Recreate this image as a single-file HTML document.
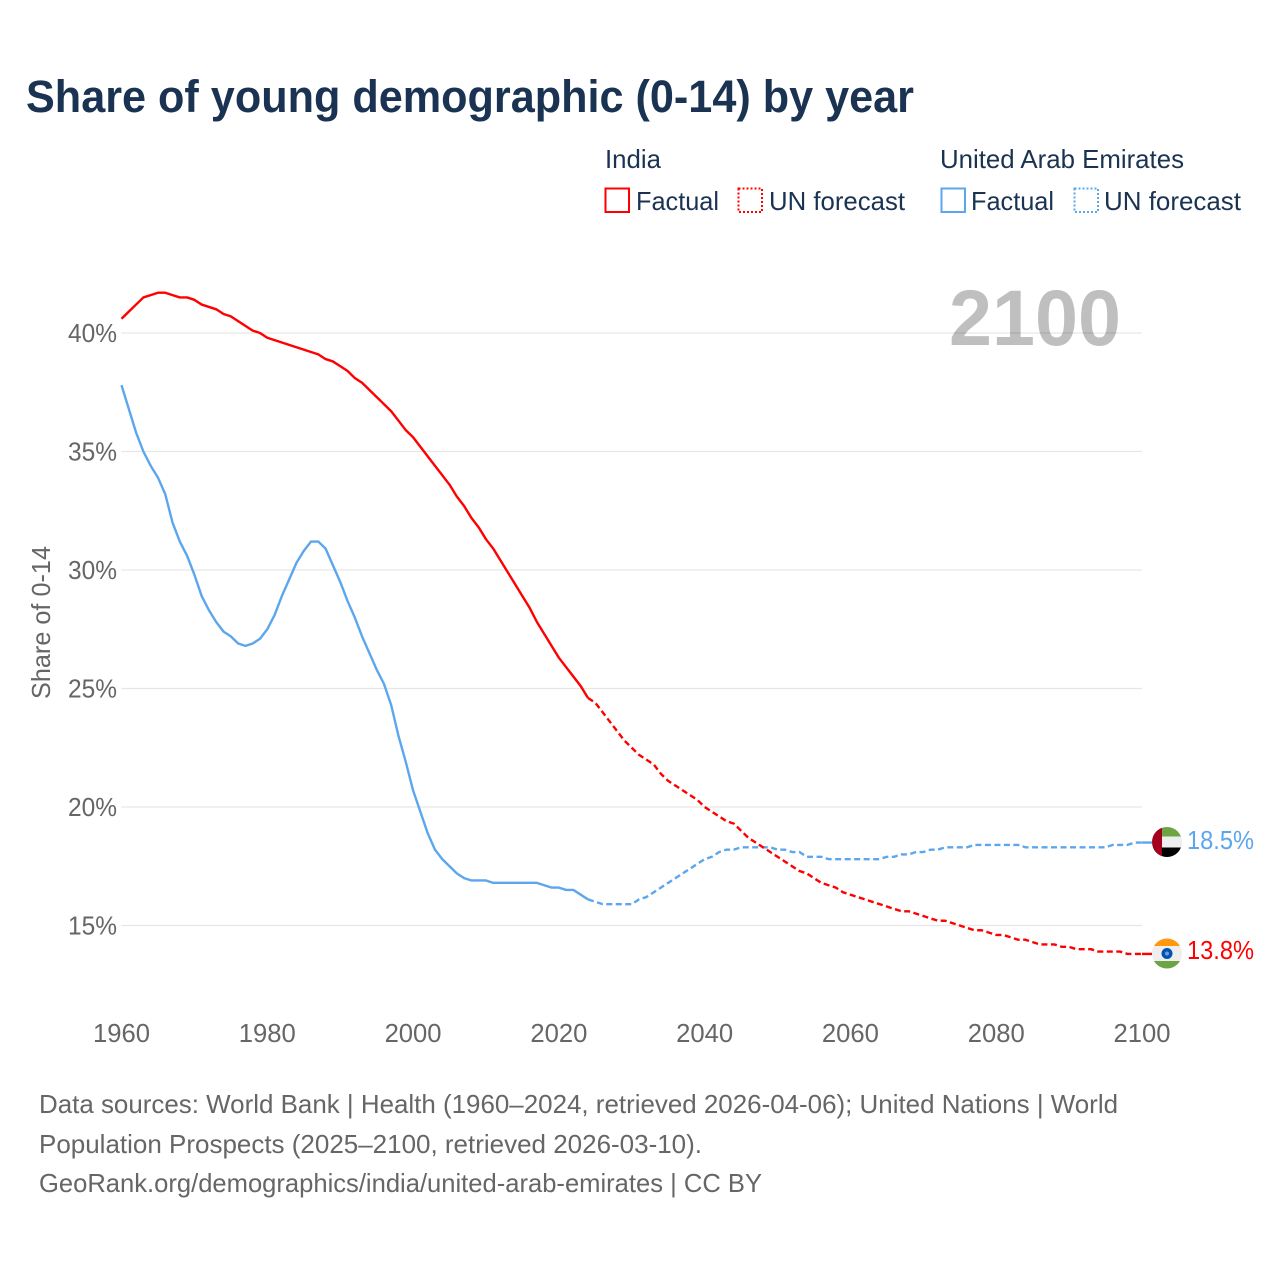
<!DOCTYPE html>
<html lang="en">
<head>
<meta charset="utf-8">
<title>Share of young demographic (0-14) by year</title>
<style>
html,body{margin:0;padding:0;background:#fff;}
svg{display:block;font-family:"Liberation Sans",sans-serif;}
text{font-family:"Liberation Sans",sans-serif;}
</style>
</head>
<body>
<svg id="chart" width="1280" height="1280" viewBox="0 0 1280 1280" xmlns="http://www.w3.org/2000/svg">
  <defs>
    <clipPath id="flag-clip-uae"><circle cx="1167" cy="842" r="15"/></clipPath>
    <clipPath id="flag-clip-india"><circle cx="1167" cy="953.5" r="15"/></clipPath>
  </defs>
  <rect width="1280" height="1280" fill="#fff"/>
  <text x="26" y="112" font-size="45" font-weight="700" fill="#1a3352" textLength="888" lengthAdjust="spacingAndGlyphs">Share of young demographic (0-14) by year</text>

  <g font-size="26" fill="#1a3352">
    <text x="605" y="168" textLength="56" lengthAdjust="spacingAndGlyphs">India</text>
    <text x="940" y="168" textLength="244" lengthAdjust="spacingAndGlyphs">United Arab Emirates</text>
    <rect x="605.5" y="188.5" width="23.5" height="23.5" fill="none" stroke="#ff0000" stroke-width="2"/>
    <text x="636" y="210" textLength="83" lengthAdjust="spacingAndGlyphs">Factual</text>
    <rect x="738.5" y="188.5" width="23.5" height="23.5" fill="none" stroke="#ff0000" stroke-width="2" stroke-dasharray="2 2"/>
    <text x="769" y="210" textLength="136" lengthAdjust="spacingAndGlyphs">UN forecast</text>
    <rect x="941.5" y="188.5" width="23.5" height="23.5" fill="none" stroke="#5ca6ee" stroke-width="2"/>
    <text x="971" y="210" textLength="83" lengthAdjust="spacingAndGlyphs">Factual</text>
    <rect x="1074.5" y="188.5" width="23.5" height="23.5" fill="none" stroke="#5ca6ee" stroke-width="2" stroke-dasharray="2 2"/>
    <text x="1104" y="210" textLength="137" lengthAdjust="spacingAndGlyphs">UN forecast</text>
  </g>

  <g id="grid"></g>
  <text x="949" y="345" font-size="79" font-weight="700" fill="#000" fill-opacity="0.25" textLength="172" lengthAdjust="spacingAndGlyphs">2100</text>
  <g id="y-ticks" font-size="26" fill="#666"></g>
  <g id="x-ticks" font-size="26" fill="#666"></g>
  <text transform="translate(50,622.5) rotate(-90)" text-anchor="middle" font-size="26" fill="#666" textLength="153" lengthAdjust="spacingAndGlyphs">Share of 0-14</text>
  <g id="series"></g>

  <g clip-path="url(#flag-clip-uae)">
    <rect x="1150" y="825" width="34" height="11.5" fill="#6da544"/>
    <rect x="1150" y="836.5" width="34" height="11" fill="#eeeeee"/>
    <rect x="1150" y="847.5" width="34" height="12" fill="#000000"/>
    <rect x="1150" y="825" width="12" height="34" fill="#a2001d"/>
  </g>
  <g clip-path="url(#flag-clip-india)">
    <rect x="1150" y="936" width="34" height="10" fill="#ff9811"/>
    <rect x="1150" y="946" width="34" height="15" fill="#eeeeee"/>
    <rect x="1150" y="961" width="34" height="10" fill="#6da544"/>
    <circle cx="1167" cy="953.5" r="5.5" fill="#0052b4"/>
    <circle cx="1167" cy="953.5" r="2" fill="#6f9fd8"/>
  </g>
  <text id="value-uae" x="1187" y="849" font-size="26" fill="#5ca6ee" textLength="67" lengthAdjust="spacingAndGlyphs">18.5%</text>
  <text id="value-india" x="1187" y="959" font-size="26" fill="#ff0000" textLength="67" lengthAdjust="spacingAndGlyphs">13.8%</text>

  <g font-size="26" fill="#666">
    <text x="39" y="1113" textLength="1079" lengthAdjust="spacingAndGlyphs">Data sources: World Bank | Health (1960–2024, retrieved 2026-04-06); United Nations | World</text>
    <text x="39" y="1153" textLength="663" lengthAdjust="spacingAndGlyphs">Population Prospects (2025–2100, retrieved 2026-03-10).</text>
    <text x="39" y="1192" textLength="723" lengthAdjust="spacingAndGlyphs">GeoRank.org/demographics/india/united-arab-emirates | CC BY</text>
  </g>
</svg>
<script>
const factualStartYear = 1960;
const forecastStartYear = 2024;
const xTickYears = [1960, 1980, 2000, 2020, 2040, 2060, 2080, 2100];
const yTickValues = [15, 20, 25, 30, 35, 40];
const indiaFactual = [40.6,40.9,41.2,41.5,41.6,41.7,41.7,41.6,41.5,41.5,41.4,41.2,41.1,41.0,40.8,40.7,40.5,40.3,40.1,40.0,39.8,39.7,39.6,39.5,39.4,39.3,39.2,39.1,38.9,38.8,38.6,38.4,38.1,37.9,37.6,37.3,37.0,36.7,36.3,35.9,35.6,35.2,34.8,34.4,34.0,33.6,33.1,32.7,32.2,31.8,31.3,30.9,30.4,29.9,29.4,28.9,28.4,27.8,27.3,26.8,26.3,25.9,25.5,25.1,24.6];
const indiaForecast = [24.6,24.4,24.0,23.6,23.2,22.8,22.5,22.2,22.0,21.8,21.4,21.1,20.9,20.7,20.5,20.3,20.0,19.8,19.6,19.4,19.3,19.0,18.7,18.5,18.3,18.1,17.9,17.7,17.5,17.3,17.2,17.0,16.8,16.7,16.6,16.4,16.3,16.2,16.1,16.0,15.9,15.8,15.7,15.6,15.6,15.5,15.4,15.3,15.2,15.2,15.1,15.0,14.9,14.8,14.8,14.7,14.6,14.6,14.5,14.4,14.4,14.3,14.2,14.2,14.2,14.1,14.1,14.0,14.0,14.0,13.9,13.9,13.9,13.9,13.8,13.8,13.8];
const uaeFactual = [37.8,36.8,35.8,35.0,34.4,33.9,33.2,32.0,31.2,30.6,29.8,28.9,28.3,27.8,27.4,27.2,26.9,26.8,26.9,27.1,27.5,28.1,28.9,29.6,30.3,30.8,31.2,31.2,30.9,30.2,29.5,28.7,28.0,27.2,26.5,25.8,25.2,24.3,23.0,21.9,20.7,19.8,18.9,18.2,17.8,17.5,17.2,17.0,16.9,16.9,16.9,16.8,16.8,16.8,16.8,16.8,16.8,16.8,16.7,16.6,16.6,16.5,16.5,16.3,16.1];
const uaeForecast = [16.1,16.0,15.9,15.9,15.9,15.9,15.9,16.1,16.2,16.4,16.6,16.8,17.0,17.2,17.4,17.6,17.8,17.9,18.1,18.2,18.2,18.3,18.3,18.3,18.3,18.3,18.2,18.2,18.1,18.1,17.9,17.9,17.9,17.8,17.8,17.8,17.8,17.8,17.8,17.8,17.8,17.9,17.9,18.0,18.0,18.1,18.1,18.2,18.2,18.3,18.3,18.3,18.3,18.4,18.4,18.4,18.4,18.4,18.4,18.4,18.3,18.3,18.3,18.3,18.3,18.3,18.3,18.3,18.3,18.3,18.3,18.3,18.4,18.4,18.4,18.5,18.5];

const SVG_NS = 'http://www.w3.org/2000/svg';
const xScale = function (year) { return 121.5 + (year - 1960) * (1142 - 121.5) / 140; };
const yScale = function (value) { return 333 + (40 - value) * 23.7; };

const gridGroup = document.getElementById('grid');
const yTickGroup = document.getElementById('y-ticks');
const xTickGroup = document.getElementById('x-ticks');
const seriesGroup = document.getElementById('series');

yTickValues.forEach(function (v) {
  const line = document.createElementNS(SVG_NS, 'line');
  
  
  line.setAttribute('x1', xScale(1960));
  line.setAttribute('x2', xScale(2100));
  line.setAttribute('y1', yScale(v));
  line.setAttribute('y2', yScale(v));
  line.setAttribute('stroke', '#e6e6e6');
  line.setAttribute('stroke-width', '1.3');
  gridGroup.appendChild(line);

  const label = document.createElementNS(SVG_NS, 'text');
  
  
  label.setAttribute('x', 117);
  label.setAttribute('y', yScale(v) + 9);
  label.setAttribute('text-anchor', 'end');
  label.setAttribute('textLength', '49');
  label.setAttribute('lengthAdjust', 'spacingAndGlyphs');
  label.textContent = v + '%';
  yTickGroup.appendChild(label);
});

xTickYears.forEach(function (year) {
  const label = document.createElementNS(SVG_NS, 'text');
  
  
  label.setAttribute('x', xScale(year));
  label.setAttribute('y', 1042);
  label.setAttribute('text-anchor', 'middle');
  label.setAttribute('textLength', '57');
  label.setAttribute('lengthAdjust', 'spacingAndGlyphs');
  label.textContent = String(year);
  xTickGroup.appendChild(label);
});

function drawSeries(values, startYear, color, dashed, name) {
  const d = values.map(function (v, i) {
    return (i ? 'L' : 'M') + xScale(startYear + i).toFixed(2) + ' ' + yScale(v).toFixed(2);
  }).join(' ');
  const path = document.createElementNS(SVG_NS, 'path');
  
  
  path.setAttribute('d', d);
  path.setAttribute('fill', 'none');
  path.setAttribute('stroke', color);
  path.setAttribute('stroke-width', '2.4');
  path.setAttribute('stroke-linejoin', 'round');
  if (dashed) path.setAttribute('stroke-dasharray', '6 3.5');
  seriesGroup.appendChild(path);
}

function drawConnector(values, color, name) {
  const last = values[values.length - 1];
  const line = document.createElementNS(SVG_NS, 'line');
  
  
  line.setAttribute('x1', xScale(2100));
  line.setAttribute('x2', xScale(2100) + 10);
  line.setAttribute('y1', yScale(last));
  line.setAttribute('y2', yScale(last));
  line.setAttribute('stroke', color);
  line.setAttribute('stroke-width', '2.4');
  seriesGroup.appendChild(line);
}

const RED = '#ff0000';
const BLUE = '#5ca6ee';
drawSeries(uaeFactual, factualStartYear, BLUE, false, 'uae-factual-line');
drawSeries(uaeForecast, forecastStartYear, BLUE, true, 'uae-forecast-line');
drawSeries(indiaFactual, factualStartYear, RED, false, 'india-factual-line');
drawSeries(indiaForecast, forecastStartYear, RED, true, 'india-forecast-line');
drawConnector(uaeForecast, BLUE, 'uae-flag-connector');
drawConnector(indiaForecast, RED, 'india-flag-connector');
document.getElementById('value-uae').textContent = uaeForecast[uaeForecast.length - 1].toFixed(1) + '%';
document.getElementById('value-india').textContent = indiaForecast[indiaForecast.length - 1].toFixed(1) + '%';
</script>
</body>
</html>
